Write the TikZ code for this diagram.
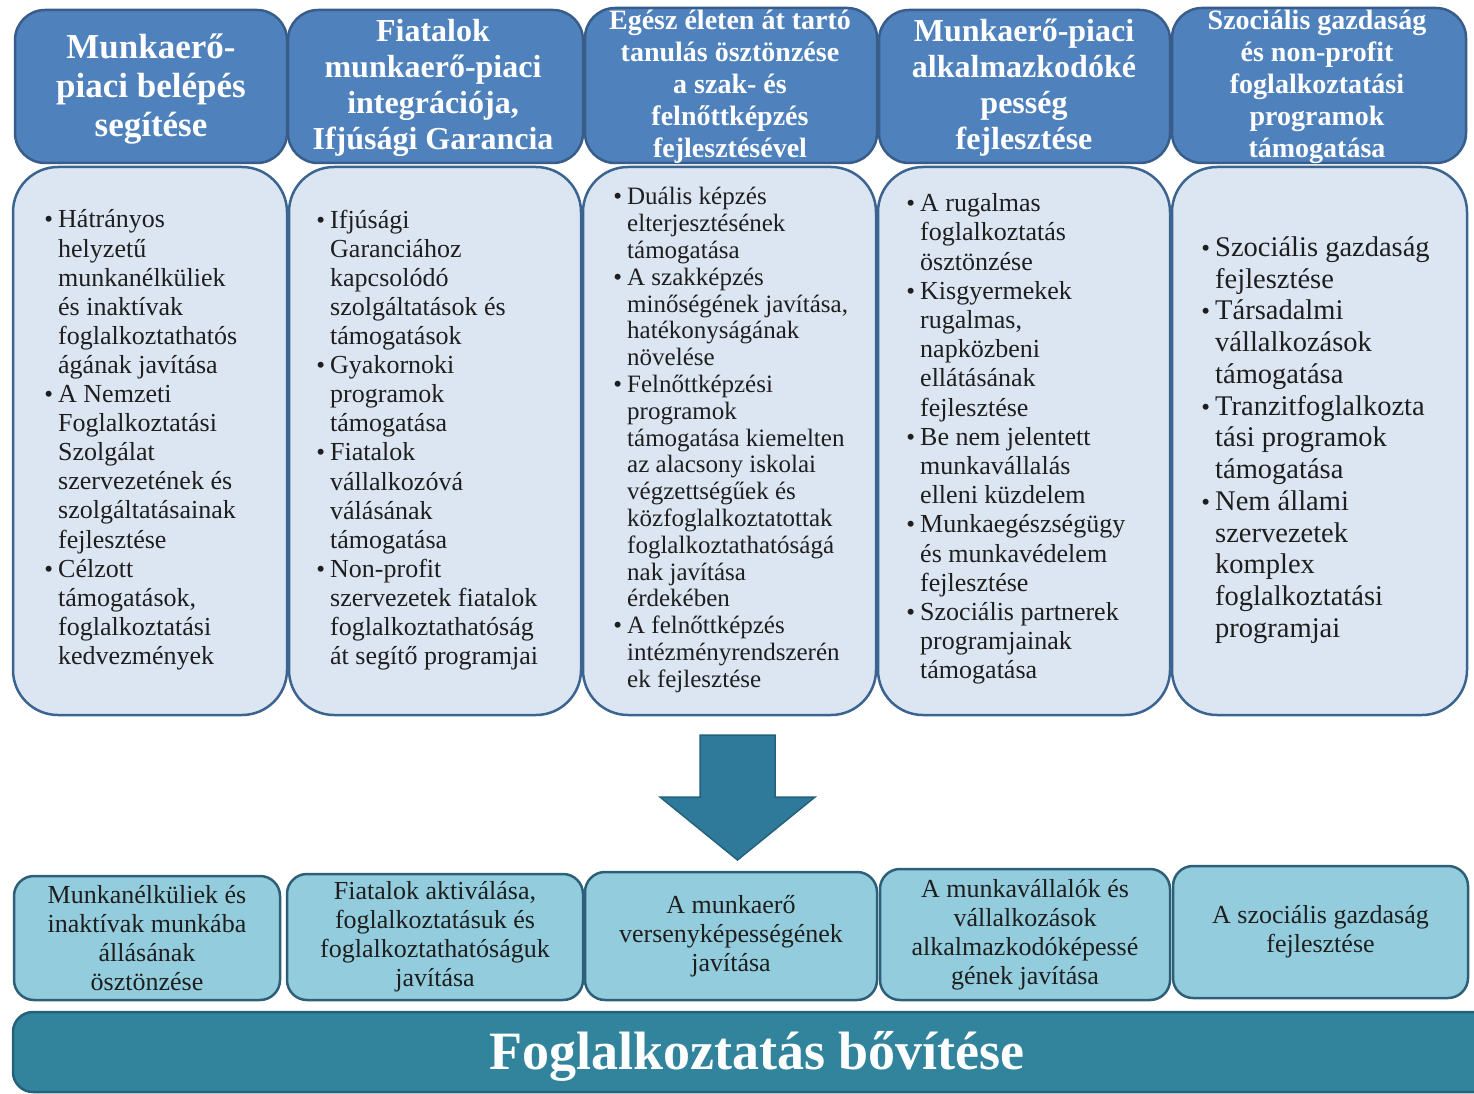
\documentclass[tikz,border=0pt]{standalone}
\usepackage{fontspec}
\setmainfont{Liberation Serif}
\definecolor{hdrfill}{HTML}{4F81BD}
\definecolor{hdrline}{HTML}{385D8A}
\definecolor{bodyfill}{HTML}{DCE6F2}
\definecolor{bodyline}{HTML}{3C6490}
\definecolor{outfill}{HTML}{93CDDD}
\definecolor{outln}{HTML}{2D5F78}
\definecolor{barfill}{HTML}{31849B}
\definecolor{barline}{HTML}{23627A}
\definecolor{arrfill}{HTML}{2F7A9A}
\definecolor{txt}{HTML}{1E1E1E}
\newcommand\bu{\makebox[0pt][r]{{\fontsize{25}{25}\selectfont\textbullet}\hspace{5pt}}}
\tikzset{
 hdr/.style={draw=hdrline, line width=2.5pt, fill=hdrfill, rounded corners=30pt, inner sep=0pt, text=white, align=center},
 bodybox/.style={draw=bodyline, line width=2.5pt, fill=bodyfill, rounded corners=45pt, inner sep=0pt},
 btext/.style={anchor=west, align=left, inner sep=0pt, text=txt},
 outbox/.style={draw=outln, line width=2.5pt, fill=outfill, rounded corners=20pt, inner sep=0pt, align=center, text=txt, font=\fontsize{26}{29}\selectfont},
}
\begin{document}
\begin{tikzpicture}[x=1pt,y=-1pt]
\fill[white] (0,0) rectangle (1474,1094);
\useasboundingbox (0,0) rectangle (1474,1094);

% body boxes
\node[bodybox, minimum width=274pt, minimum height=548pt] (b1) at (150,441) {};
\node[bodybox, minimum width=292pt, minimum height=548pt] (b2) at (435,441) {};
\node[bodybox, minimum width=293pt, minimum height=548pt] (b3) at (729.5,441) {};
\node[bodybox, minimum width=292pt, minimum height=548pt] (b4) at (1024,441) {};
\node[bodybox, minimum width=295pt, minimum height=548pt] (b5) at (1319.5,441) {};

% header boxes
\node[hdr, minimum width=272pt, minimum height=153pt] (h1) at (151,86.5) {};
\node[hdr, minimum width=295pt, minimum height=153pt] (h2) at (435.5,86.5) {};
\node[hdr, minimum width=292pt, minimum height=155pt] (h3) at (731,85.5) {};
\node[hdr, minimum width=291pt, minimum height=153pt] (h4) at (1024.5,86.5) {};
\node[hdr, minimum width=294pt, minimum height=155pt] (h5) at (1319,85.5) {};
\node[text=white, align=center, inner sep=0pt, font=\bfseries\fontsize{35}{39}\selectfont] (h1t) at (151,89) {Munkaerő-\\piaci belépés\\segítése};
\node[text=white, align=center, inner sep=0pt, font=\bfseries\fontsize{32}{36}\selectfont] (h2t) at (433,88) {Fiatalok\\munkaerő-piaci\\integrációja,\\Ifjúsági Garancia};
\node[text=white, align=center, inner sep=0pt, font=\bfseries\fontsize{28}{32}\selectfont] (h3t) at (730,87) {Egész életen át tartó\\tanulás ösztönzése\\a szak- és\\felnőttképzés\\fejlesztésével};
\node[text=white, align=center, inner sep=0pt, font=\bfseries\fontsize{32}{36}\selectfont] (h4t) at (1024,88) {Munkaerő-piaci\\alkalmazkodóké\\pesség\\fejlesztése};
\node[text=white, align=center, inner sep=0pt, font=\bfseries\fontsize{28}{32}\selectfont] (h5t) at (1317,87) {Szociális gazdaság\\és non-profit\\foglalkoztatási\\programok\\támogatása};

% body texts
\node[btext, font=\fontsize{26}{29.1}\selectfont] (t1) at (58,440) {\bu Hátrányos\\helyzetű\\munkanélküliek\\és inaktívak\\foglalkoztathatós\\ágának javítása\\\bu A Nemzeti\\Foglalkoztatási\\Szolgálat\\szervezetének és\\szolgáltatásainak\\fejlesztése\\\bu Célzott\\támogatások,\\foglalkoztatási\\kedvezmények};
\node[btext, font=\fontsize{26}{29.1}\selectfont] (t2) at (330,440) {\bu Ifjúsági\\Garanciához\\kapcsolódó\\szolgáltatások és\\támogatások\\\bu Gyakornoki\\programok\\támogatása\\\bu Fiatalok\\vállalkozóvá\\válásának\\támogatása\\\bu Non-profit\\szervezetek fiatalok\\foglalkoztathatóság\\át segítő programjai};
\node[btext, font=\fontsize{25}{26.8}\selectfont] (t3) at (627,440) {\bu Duális képzés\\elterjesztésének\\támogatása\\\bu A szakképzés\\minőségének javítása,\\hatékonyságának\\növelése\\\bu Felnőttképzési\\programok\\támogatása kiemelten\\az alacsony iskolai\\végzettségűek és\\közfoglalkoztatottak\\foglalkoztathatóságá\\nak javítása\\érdekében\\\bu A felnőttképzés\\intézményrendszerén\\ek fejlesztése};
\node[btext, font=\fontsize{26}{29.2}\selectfont] (t4) at (920,439) {\bu A rugalmas\\foglalkoztatás\\ösztönzése\\\bu Kisgyermekek\\rugalmas,\\napközbeni\\ellátásának\\fejlesztése\\\bu Be nem jelentett\\munkavállalás\\elleni küzdelem\\\bu Munkaegészségügy\\és munkavédelem\\fejlesztése\\\bu Szociális partnerek\\programjainak\\támogatása};
\node[btext, font=\fontsize{28.5}{31.75}\selectfont] (t5) at (1215,440) {\bu Szociális gazdaság\\fejlesztése\\\bu Társadalmi\\vállalkozások\\támogatása\\\bu Tranzitfoglalkozta\\tási programok\\támogatása\\\bu Nem állami\\szervezetek\\komplex\\foglalkoztatási\\programjai};

% arrow
\filldraw[fill=arrfill, draw=barline, line width=1.5pt] (700,735) -- (775,735) -- (775,797) -- (815,797) -- (737.5,860) -- (660,797) -- (700,797) -- cycle;

% outcome boxes
\node[outbox, minimum width=266pt, minimum height=124pt] (o1) at (147,938) {Munkanélküliek és\\inaktívak munkába\\állásának\\ösztönzése};
\node[outbox, minimum width=296pt, minimum height=126pt] (o2) at (435,937) {Fiatalok aktiválása,\\foglalkoztatásuk és\\foglalkoztathatóságuk\\javítása};
\node[outbox, minimum width=292pt, minimum height=128pt] (o3) at (731,936) {A munkaerő\\versenyképességének\\javítása};
\node[outbox, minimum width=290pt, minimum height=131pt] (o4) at (1025,934.5) {A munkavállalók és\\vállalkozások\\alkalmazkodóképessé\\gének javítása};
\node[outbox, minimum width=295pt, minimum height=132pt] (o5) at (1320.5,932) {A szociális gazdaság\\fejlesztése};

% bottom bar
\node[draw=barline, line width=2.5pt, fill=barfill, rounded corners=20pt, minimum width=1487pt, minimum height=80pt, inner sep=0pt] (bar) at (756.5,1052) {};
\node[text=white, inner sep=0pt, font=\bfseries\fontsize{54}{60}\selectfont] (barlabel) at (757,1056) {Foglalkoztatás bővítése};
\end{tikzpicture}
\end{document}
